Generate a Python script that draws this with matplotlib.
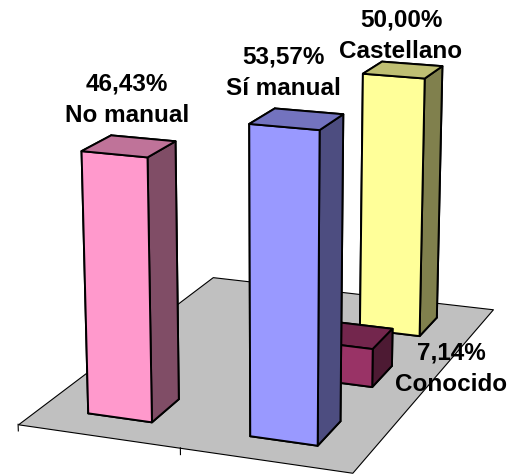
import matplotlib
matplotlib.use("Agg")
import matplotlib.pyplot as plt
from mpl_toolkits.mplot3d.art3d import Poly3DCollection

# -----------------------------
# Data
# -----------------------------
labels = ["No manual", "Sí manual", "Conocido", "Castellano"]
percent = [46.43, 53.57, 7.14, 50.00]
columns = [0, 1, 1, 1]
rows = [0, 0, 1, 2]

# front, side, top for each bar
front_colors = ["#FF99CC", "#9999FF", "#993366", "#FFFF99"]
side_colors = ["#804D66", "#4D4D80", "#4D1A33", "#80804D"]
top_colors = ["#BF7399", "#7373BF", "#73264D", "#BFBF73"]

n_columns = 2
n_rows = 3
z_max = 60
bar_size = 0.4

plt.rcParams["font.family"] = ["Liberation Sans", "DejaVu Sans"]

W, H = 507, 474
fig = plt.figure(figsize=(W / 100, H / 100), dpi=100)
# oversized axes so nothing gets clipped, centred on the scene
ax = fig.add_axes([-34.5 / W, -39 / H, 600 / W, 600 / H], projection="3d", computed_zorder=False)
ax.set_proj_type("persp", focal_length=0.65)
ax.view_init(elev=15.7, azim=-69.5)
ax.set_box_aspect((330, 485, 332), zoom=1.098)
ax.set_xlim(0, n_columns)
ax.set_ylim(0, n_rows)
ax.set_zlim(0, z_max)
ax.set_axis_off()
ax.patch.set_alpha(0)

# Floor
floor = [[(0, 0, 0), (n_columns, 0, 0), (n_columns, n_rows, 0), (0, n_rows, 0)]]
ax.add_collection3d(Poly3DCollection(floor, facecolor="#C0C0C0", edgecolor="black",
                                     linewidth=0.8, zorder=1))

# Category ticks on the front edge
for tick in range(n_columns):
    ax.plot([tick, tick], [0, 0], [0, -1.2], color="black", linewidth=0.8, zorder=1)

# Bars, back to front
draw_order = [3, 2, 0, 1]
for rank, i in enumerate(draw_order):
    # faces: bottom, top, front, back, left, right
    colors = [front_colors[i], top_colors[i], front_colors[i],
              front_colors[i], side_colors[i], side_colors[i]]
    ax.bar3d(columns[i] + 0.5 - bar_size / 2, rows[i] + 0.5 - bar_size / 2, 0,
             bar_size, bar_size, percent[i],
             color=colors, edgecolor="black", linewidth=1.4, shade=False,
             zorder=2 + rank)

# Labels
label_xy = [(127, 100), (283, 73), (451, 369), (401, 36)]
for i, (px, py) in enumerate(label_xy):
    value = f"{percent[i]:.2f}".replace(".", ",") + "%"
    fig.text(px / W, 1 - py / H, f"{value}\n{labels[i]}", ha="center", va="center",
             fontsize=17.5, fontweight="bold", linespacing=1.46, zorder=20)

fig.savefig("out.png", dpi=100)
